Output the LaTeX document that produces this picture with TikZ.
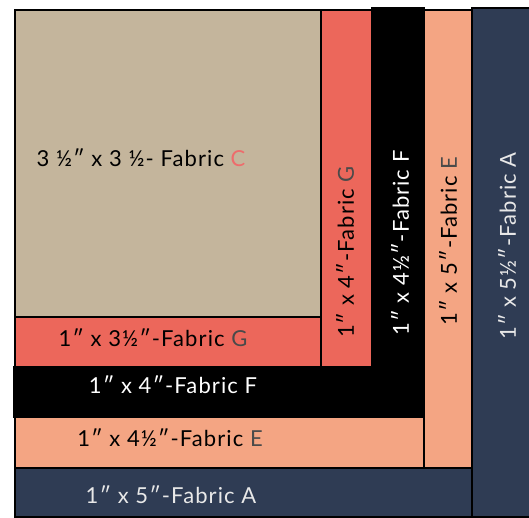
\documentclass[tikz,border=0pt]{standalone}
\usepackage{fontspec}
\setmainfont{Lato}[LetterSpace=5]
\definecolor{fabA}{HTML}{2F3C54}
\definecolor{fabC}{HTML}{C4B59C}
\definecolor{fabE}{HTML}{F4A583}
\definecolor{fabG}{HTML}{EC675B}
\definecolor{fabF}{HTML}{000000}
\definecolor{lettergray}{HTML}{4A4A4A}
\definecolor{letterpink}{HTML}{EE6C6C}
\definecolor{lightgray}{HTML}{E8E8E8}
\newcommand{\inch}{″}
\begin{document}
\begin{tikzpicture}[
    x=1pt, y=1pt,
    every node/.style={font=\fontsize{22}{25}\selectfont, inner sep=0pt},
    piece/.style={draw=black, line width=1.2pt},
    darktext/.style={text=black},
    lighttext/.style={text=white},
    navytext/.style={text=lightgray},
    upright/.style={rotate=90},
  ]
  \useasboundingbox (0,0) rectangle (529,517);

  % === Centre square ===
  \filldraw[piece, fill=fabC] (15,200) rectangle (321,507);

  % === Round G ===
  \filldraw[piece, fill=fabG] (15,150) rectangle (321,200);
  \filldraw[piece, fill=fabG] (321,150) rectangle (372,507);

  % === Round F ===
  \filldraw[piece, fill=fabF] (14,100) rectangle (372,150);
  \filldraw[piece, fill=fabF] (372,100) rectangle (424,509);

  % === Round E ===
  \filldraw[piece, fill=fabE] (15,49) rectangle (424,100);
  \filldraw[piece, fill=fabE] (424,49) rectangle (472,507);

  % === Round A ===
  \filldraw[piece, fill=fabA] (15,0) rectangle (472,49);
  \filldraw[piece, fill=fabA] (472,0) rectangle (531,509);

  % === Labels ===
  \node[darktext]  (lblC)  at (141,359) {3 ½\inch{} x 3 ½- Fabric \textcolor{letterpink}{C}};
  \node[darktext]  (lblGh) at (153,179) {1\inch{} x 3½\inch-Fabric \textcolor{lettergray}{G}};
  \node[lighttext] (lblFh) at (173,132) {1\inch{} x 4\inch-Fabric F};
  \node[darktext]  (lblEh) at (170,79)  {1\inch{} x 4½\inch-Fabric \textcolor{lettergray}{E}};
  \node[navytext]  (lblAh) at (171,22)  {1\inch{} x 5\inch-Fabric A};

  \node[darktext, upright]  (lblGv) at (345,265) {1\inch{} x 4\inch-Fabric \textcolor{lettergray}{G}};
  \node[lighttext, upright] (lblFv) at (400,274) {1\inch{} x 4½\inch-Fabric F};
  \node[darktext, upright]  (lblEv) at (448,276) {1\inch{} x 5\inch-Fabric \textcolor{lettergray}{E}};
  \node[navytext, upright]  (lblAv) at (507,271) {1\inch{} x 5½\inch-Fabric A};

\end{tikzpicture}
\end{document}
